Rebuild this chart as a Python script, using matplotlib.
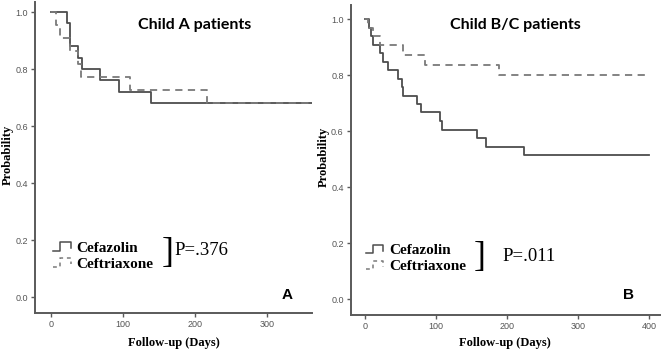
import numpy as np
import matplotlib.pyplot as plt
from matplotlib.legend_handler import HandlerBase
from matplotlib.lines import Line2D

# Kaplan-Meier step data (event times in days, survival after each event)
a_cefazolin_t = [0, 22, 26, 27, 38, 43, 68, 94, 139]
a_cefazolin_s = [1.0, 0.96, 0.92, 0.88, 0.84, 0.80, 0.76, 0.72, 0.68]
a_ceftriax_t = [0, 7, 13, 27, 37, 42, 110, 217]
a_ceftriax_s = [1.0, 0.955, 0.909, 0.864, 0.818, 0.773, 0.727, 0.682]
a_end = 362

b_cefazolin_t = [0, 6, 9, 12, 22, 25, 33, 47, 52, 54, 74, 79, 106, 108, 158, 170, 224]
b_cefazolin_s = [1.0, 0.970, 0.939, 0.909, 0.879, 0.848, 0.818, 0.788, 0.758,
                 0.727, 0.697, 0.667, 0.636, 0.606, 0.576, 0.545, 0.515]
b_ceftriax_t = [0, 5, 12, 22, 54, 85, 188]
b_ceftriax_s = [1.0, 0.97, 0.94, 0.909, 0.873, 0.836, 0.80]
b_end = 400

labels = ["Cefazolin", "Ceftriaxone"]

SOLID = '#4d4d4d'
DASH = '#7a7a7a'
AXC = '#5a5a5a'


class StepHandler(HandlerBase):
    # little step-shaped legend key like SPSS output
    def create_artists(self, legend, orig, xd, yd, w, h, fs, trans):
        x = np.array([0, 0.4, 0.4, 1.0, 1.0]) * w - xd
        y = np.array([0.1, 0.1, 0.9, 0.9, 0.35]) * h - yd
        ln = Line2D(x, y, color=orig.get_color(), lw=1.1,
                    linestyle=orig.get_linestyle(), transform=trans)
        if orig.get_linestyle() == '--':
            ln.set_dashes((2.5, 2.5))
        return [ln]


def km(ax, t, s, end, **kw):
    tt = list(t) + [end]
    ss = list(s) + [s[-1]]
    return ax.step(tt, ss, where='post', **kw)[0]


def style(ax, xlim, ylim, xticks, ylab_x, xlab_y):
    ax.set_xlim(*xlim)
    ax.set_ylim(*ylim)
    ax.set_xticks(xticks)
    ax.set_yticks([0.0, 0.2, 0.4, 0.6, 0.8, 1.0])
    ax.set_yticklabels(['0.0', '0.2', '0.4', '0.6', '0.8', '1.0'])
    for sp in ['top', 'right']:
        ax.spines[sp].set_visible(False)
    for sp in ['left', 'bottom']:
        ax.spines[sp].set_color(AXC)
        ax.spines[sp].set_linewidth(1.4)
    ax.tick_params(length=3, width=1, color=AXC, labelsize=6.5,
                   labelcolor='#555555', pad=2)
    for lb in ax.get_xticklabels() + ax.get_yticklabels():
        lb.set_family('Liberation Sans')
    ax.set_xlabel("Follow-up (Days)", family='Liberation Serif',
                  fontweight='bold', fontsize=9)
    ax.set_ylabel("Probability", family='Liberation Serif',
                  fontweight='bold', fontsize=9)
    ax.xaxis.set_label_coords(0.5, xlab_y)
    ax.xaxis.label.set_va('center')
    ax.yaxis.set_label_coords(ylab_x, 0.51)
    ax.yaxis.label.set_va('center')


fig = plt.figure(figsize=(6.64, 3.51), dpi=100)
axA = fig.add_axes([0.0527, 0.108, 0.417, 0.886])
axB = fig.add_axes([0.528, 0.103, 0.466, 0.883])

legprops = {'family': 'Liberation Serif', 'weight': 'bold', 'size': 11}

# panel A
l1 = km(axA, a_cefazolin_t, a_cefazolin_s, a_end, color=SOLID, lw=1.3)
l2 = km(axA, a_ceftriax_t, a_ceftriax_s, a_end, color=DASH, lw=1.3,
        linestyle='--', dashes=(4, 3))
style(axA, (-22, 362), (-0.056, 1.035), [0, 100, 200, 300], -0.1, -0.096)
axA.text(0.578, 0.926, "Child A patients", transform=axA.transAxes,
         ha='center', va='center', family='Lato', fontweight='bold', fontsize=11.5)
axA.text(0.91, 0.058, "A", transform=axA.transAxes, ha='center', va='center',
         family='Liberation Sans', fontweight='bold', fontsize=11)
axA.legend([l1, l2], labels, handler_map={Line2D: StepHandler()},
           loc='center left', bbox_to_anchor=(0.0155, 0.183), frameon=False,
           prop=legprops, handlelength=1.15, handletextpad=0.4, labelspacing=0.15)
axA.text(0.48, 0.193, "]", transform=axA.transAxes, ha='center', va='center',
         family='Liberation Serif', fontsize=26)
axA.text(0.505, 0.2, "P=.376", transform=axA.transAxes, ha='left', va='center',
         family='Liberation Serif', fontsize=13.5)

# panel B
l3 = km(axB, b_cefazolin_t, b_cefazolin_s, b_end, color=SOLID, lw=1.3)
l4 = km(axB, b_ceftriax_t, b_ceftriax_s, b_end, color=DASH, lw=1.3,
        linestyle='--', dashes=(4, 3))
style(axB, (-20, 415), (-0.056, 1.051), [0, 100, 200, 300, 400], -0.085, -0.09)
axB.text(0.531, 0.935, "Child B/C patients", transform=axB.transAxes,
         ha='center', va='center', family='Lato', fontweight='bold', fontsize=11.5)
axB.text(0.897, 0.065, "B", transform=axB.transAxes, ha='center', va='center',
         family='Liberation Sans', fontweight='bold', fontsize=11)
axB.legend([l3, l4], labels, handler_map={Line2D: StepHandler()},
           loc='center left', bbox_to_anchor=(0.005, 0.182), frameon=False,
           prop=legprops, handlelength=1.15, handletextpad=0.4, labelspacing=0.15)
axB.text(0.418, 0.184, "]", transform=axB.transAxes, ha='center', va='center',
         family='Liberation Serif', fontsize=26)
axB.text(0.492, 0.188, "P=.011", transform=axB.transAxes, ha='left', va='center',
         family='Liberation Serif', fontsize=13.5)

fig.savefig("out.png", dpi=100)
